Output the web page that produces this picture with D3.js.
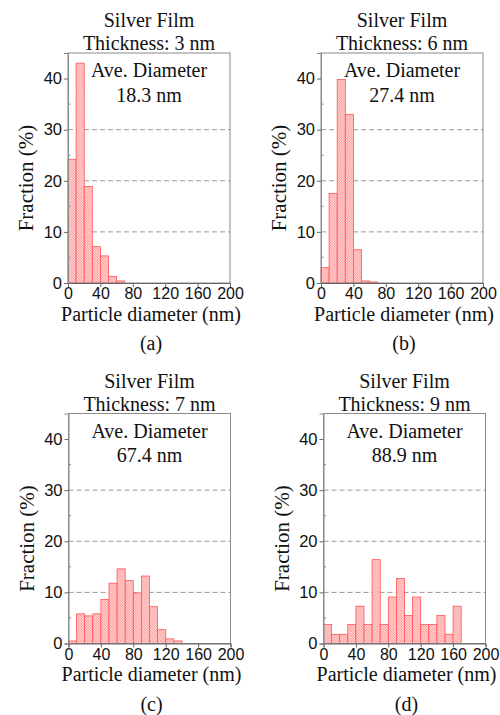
<!DOCTYPE html>
<html>
<head>
<meta charset="utf-8">
<script src="https://cdn.jsdelivr.net/npm/d3@7"></script>
<style>
  body { margin: 0; background: #fff; }
  svg { display: block; }
</style>
</head>
<body>
<div id="chart-area"></div>
<script>
// particle size histograms, 10 nm bins starting at 0

var thickness = ["3 nm", "6 nm", "7 nm", "9 nm"];
var aveDiameter = ["18.3 nm", "27.4 nm", "67.4 nm", "88.9 nm"];
var panelTags = ["(a)", "(b)", "(c)", "(d)"];

var fracA = [24.2, 43.0, 18.9, 7.1, 5.3, 1.3, 0.4];
var fracB = [3.0, 17.5, 39.8, 33.0, 6.5, 0.4, 0.2];
var fracC = [0.5, 5.8, 5.4, 5.8, 8.6, 11.8, 14.6, 12.3, 9.9, 13.2, 7.2, 2.7, 0.9, 0.5];
var fracD = [3.7, 1.8, 1.8, 3.7, 7.3, 3.7, 16.4, 3.7, 9.1, 12.7, 5.5, 9.1, 3.7, 3.7, 5.5, 1.8, 7.3];

var binWidth = 10;
var xTicks = [0, 40, 80, 120, 160, 200];
var yTicks = [0, 10, 20, 30, 40];
var gridLevels = [10, 20, 30];

var series = [fracA, fracB, fracC, fracD];

var W = 500, H = 715;
var pw = 162, ph = 230;
var origins = [[68, 53], [321, 53], [68.5, 413.5], [323.5, 413.5]];

var serif = "'Liberation Serif', 'Times New Roman', serif";
var sans = "'Liberation Sans', Arial, sans-serif";

var svg = d3.select("#chart-area")
  .append("svg")
  .attr("width", W)
  .attr("height", H);

var defs = svg.append("defs");
var pat = defs.append("pattern")
  .attr("id", "hatch")
  .attr("patternUnits", "userSpaceOnUse")
  .attr("width", 2.5)
  .attr("height", 2.5);
pat.append("rect").attr("width", 2.5).attr("height", 2.5).attr("fill", "#fff");
pat.append("path")
  .attr("d", "M-1,-1 L3.5,3.5 M-1,1.5 L1,3.5 M1.5,-1 L3.5,1")
  .attr("stroke", "#ff7878")
  .attr("stroke-width", 0.9);

var x = d3.scaleLinear().domain([0, 200]).range([0, pw]);
var y = d3.scaleLinear().domain([0, 45]).range([ph, 0]);

series.forEach(function(vals, i) {
  var g = svg.append("g")
    .attr("transform", "translate(" + origins[i][0] + "," + origins[i][1] + ")");

  // dashed grid
  g.selectAll(".grid")
    .data(gridLevels)
    .enter().append("line")
    .attr("x1", 0).attr("x2", pw)
    .attr("y1", function(d) { return y(d); })
    .attr("y2", function(d) { return y(d); })
    .attr("stroke", "#999")
    .attr("stroke-width", 1)
    .attr("stroke-dasharray", "5,3");

  var bins = vals.map(function(v, k) { return { x0: k * binWidth, x1: (k + 1) * binWidth, v: v }; });

  g.selectAll(".bar")
    .data(bins)
    .enter().append("rect")
    .attr("x", function(d) { return x(d.x0); })
    .attr("y", function(d) { return y(d.v); })
    .attr("width", function(d) { return x(d.x1) - x(d.x0); })
    .attr("height", function(d) { return y(0) - y(d.v); })
    .attr("fill", "url(#hatch)")
    .attr("stroke", "#ff5555")
    .attr("stroke-width", 0.8);

  // frame
  g.append("rect")
    .attr("width", pw).attr("height", ph)
    .attr("fill", "none")
    .attr("stroke", "#8a8a8a")
    .attr("stroke-width", 1);

  var xAxis = g.append("g")
    .attr("transform", "translate(0," + ph + ")")
    .call(d3.axisBottom(x).tickValues(xTicks).tickSize(4).tickPadding(1).tickFormat(d3.format("d")));
  xAxis.select(".domain").attr("stroke", "#666");
  xAxis.selectAll(".tick line").attr("stroke", "#666");
  xAxis.selectAll("text")
    .attr("fill", "#111")
    .style("font-family", sans)
    .style("font-size", "16px");

  var yAxis = g.append("g")
    .call(d3.axisLeft(y).tickValues(yTicks).tickSize(4).tickPadding(2).tickFormat(d3.format("d")));
  yAxis.select(".domain").attr("stroke", "#8a8a8a");
  yAxis.selectAll(".tick line").attr("stroke", "#666");
  yAxis.selectAll("text")
    .attr("fill", "#111")
    .style("font-family", sans)
    .style("font-size", "16.5px");

  // minor ticks
  g.selectAll(".ymin")
    .data([5, 15, 25, 35])
    .enter().append("line")
    .attr("x1", 0).attr("x2", 2.5)
    .attr("y1", function(d) { return y(d); })
    .attr("y2", function(d) { return y(d); })
    .attr("stroke", "#888");

  var cx = pw / 2;
  var title = g.append("g")
    .style("font-family", serif)
    .style("font-size", "20px")
    .attr("fill", "#111")
    .attr("text-anchor", "middle");
  title.append("text").attr("x", cx).attr("y", -26).text("Silver Film");
  title.append("text").attr("x", cx).attr("y", -3).text("Thickness: " + thickness[i]);
  title.append("text").attr("x", cx).attr("y", 24).text("Ave. Diameter");
  title.append("text").attr("x", cx).attr("y", 48.5).text(aveDiameter[i]);
  title.append("text").attr("x", cx + 2).attr("y", ph + 37.5).text("Particle diameter (nm)");
  title.append("text").attr("x", cx + 2).attr("y", ph + 67).text(panelTags[i]);

  title.append("text")
    .attr("transform", "translate(-35," + (ph / 2 + 10) + ") rotate(-90)")
    .style("font-size", "21px")
    .text("Fraction (%)");
});
</script>
</body>
</html>
